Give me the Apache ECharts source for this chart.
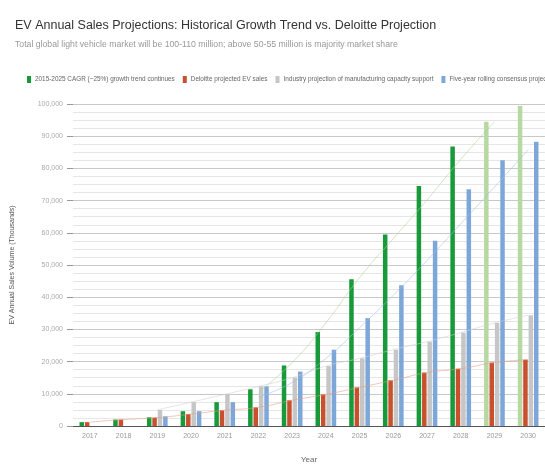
<!DOCTYPE html>
<html><head><meta charset="utf-8">
<script src="https://cdn.jsdelivr.net/npm/echarts@6/dist/echarts.min.js"></script>
<style>html,body{margin:0;padding:0;background:#fff}#c{width:545px;height:469px}</style>
</head><body><div id="c"></div>
<script>
const years = ['2017','2018','2019','2020','2021','2022','2023','2024','2025','2026','2027','2028','2029','2030'];
const growthTrend = [1200, 2000, 2700, 4600, 7400, 11400, 18800, 29200, 45600, 59500, 74500, 86800, 94500, 99400];
const deloitteSales = [1200, 2000, 2600, 3700, 4900, 5800, 8000, 9800, 12000, 14200, 16600, 17800, 19700, 20600];
const capacity = [null, null, 5000, 7400, 9800, 12300, 15000, 18600, 21000, 23700, 26200, 29000, 32000, 34400];
const consensus = [null, null, 3000, 4600, 7400, 12300, 16900, 23700, 33500, 43700, 57500, 73500, 82500, 88300];
const growthFit = [null, null, null, null, null, 10500, 19700, 32000, 46100, 58200, 70200, 82800, 94500, null];
const consensusFit = [null, null, null, null, null, 9000, 13500, 21000, 30500, 40600, 51400, 62800, 74200, 85800];
const fadedFromYear = '2029';
const names = ['2015-2025 CAGR (~25%) growth trend continues', 'Deloitte projected EV sales', 'Industry projection of manufacturing capacity support', 'Five-year rolling consensus projection'];
const yTicks = {min: 0, max: 100000, step: 10000};

const chart = echarts.init(document.getElementById('c'), null, {renderer: 'canvas'});
const fadeIdx = years.indexOf(fadedFromYear);
const colors = ['#18993a', '#c9502e', '#c6c6c6', '#7da7d9'];
const bw = 4.5;
function bar(name, data, color, mapFn) {
  return {name, type: 'bar', data: mapFn ? data.map(mapFn) : data, barWidth: bw, barGap: '20%',
    itemStyle: {color}, z: 2};
}
function line(name, data, color) {
  return {name, type: 'line', data, smooth: true, showSymbol: false, symbol: 'none', connectNulls: false,
    lineStyle: {width: 1, color, opacity: 0.55}, itemStyle: {color}, z: 3, silent: true};
}
const font = 'Liberation Sans, Arial, sans-serif';
chart.setOption({
  animation: false,
  backgroundColor: '#fff',
  color: colors,
  title: {
    text: 'EV Annual Sales Projections: Historical Growth Trend vs. Deloitte Projection',
    subtext: 'Total global light vehicle market will be 100-110 million; above 50-55 million is majority market share',
    left: 10, top: 14, itemGap: 8,
    textStyle: {fontFamily: font, fontSize: 12.5, fontWeight: 'normal', color: '#333'},
    subtextStyle: {fontFamily: font, fontSize: 8.7, color: '#999'}
  },
  legend: {
    data: names, left: 22, top: 71, width: 800, itemWidth: 4, itemHeight: 7, itemGap: 8,
    icon: 'rect',
    textStyle: {fontFamily: font, fontSize: 6.4, color: '#666', padding: [0, 0, 0, -1]}
  },
  grid: {left: 73, right: -12, top: 104, bottom: 40, containLabel: false},
  xAxis: {
    type: 'category', data: years, name: 'Year', nameLocation: 'middle', nameGap: 30,
    nameTextStyle: {fontFamily: font, fontSize: 8, color: '#666'},
    axisLine: {lineStyle: {color: '#555'}}, axisTick: {show: false},
    axisLabel: {fontFamily: font, fontSize: 7, color: '#999', margin: 7}
  },
  yAxis: {
    type: 'value', min: yTicks.min, max: yTicks.max, interval: yTicks.step,
    name: 'EV Annual Sales Volume (Thousands)', nameLocation: 'middle', nameGap: 57,
    nameTextStyle: {fontFamily: font, fontSize: 7, color: '#555'},
    axisLine: {show: false},
    axisTick: {show: true, length: 6, lineStyle: {color: '#999'}},
    axisLabel: {fontFamily: font, fontSize: 7, color: '#aaa', margin: 10,
      formatter: v => v.toLocaleString('en-US')},
    splitLine: {lineStyle: {color: '#c8c8c8'}},
    minorTick: {show: false, splitNumber: 4},
    minorSplitLine: {show: true, lineStyle: {color: '#e6e6e6'}}
  },
  series: [
    bar(names[0], growthTrend, colors[0], (v, i) => i >= fadeIdx ? {value: v, itemStyle: {color: '#b7d8a2'}} : v),
    bar(names[1], deloitteSales, colors[1]),
    bar(names[2], capacity, colors[2]),
    bar(names[3], consensus, colors[3]),
    line(names[0], growthFit, '#a9d48f'),
    line(names[1], deloitteSales, '#e59a80'),
    line(names[2], capacity, '#d0d0d0'),
    line(names[3], consensusFit, '#9dbde3')
  ]
});
</script></body></html>
